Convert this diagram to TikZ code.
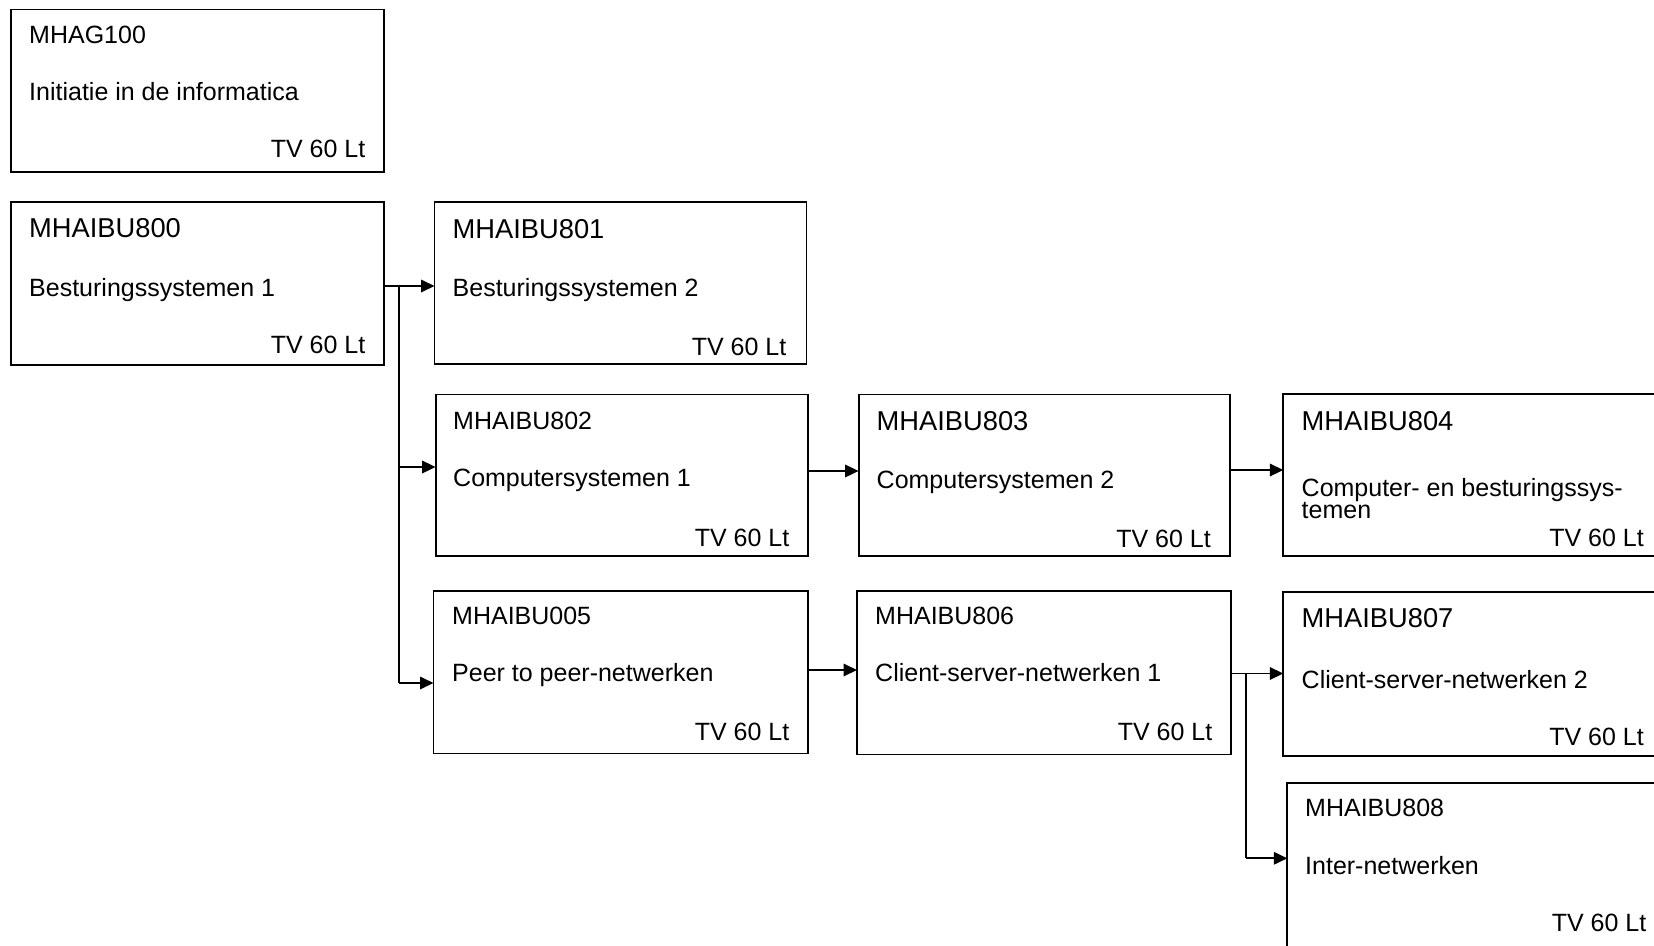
\documentclass[tikz,border=0pt]{standalone}
\usepackage{fontspec}
\setmainfont{Liberation Sans}
\usetikzlibrary{arrows.meta}
\newcommand\fsN{\fontsize{25}{30}\selectfont}
\newcommand\fsL{\fontsize{27.3}{32}\selectfont}
\newcommand\fsT{\fontsize{25}{20.8}\selectfont}
\tikzset{
  box/.style={draw, line width=1.8pt, rectangle, inner sep=0pt, outer sep=0pt, anchor=north west},
  ttls/.style={inner sep=0pt, anchor=base west, font=\fsN},
  ttll/.style={inner sep=0pt, anchor=base west, font=\fsL},
  body/.style={inner sep=0pt, anchor=base west, font=\fsN},
  tv/.style={inner sep=0pt, anchor=base east, font=\fsN},
  conn/.style={line width=1.8pt},
  arr/.style={conn, -{Triangle[length=13.5pt,width=12.5pt]}}
}
\begin{document}
\begin{tikzpicture}[x=1pt,y=-1pt]
\clip (0,0) rectangle (1654,945);
\useasboundingbox (0,0) rectangle (1654,945);

% boxes
\node[box, minimum width=373pt, minimum height=162.5pt] (g100) at (11,9.5) {};
\node[box, minimum width=373pt, minimum height=163pt] (b800) at (11,202) {};
\node[box, minimum width=372pt, minimum height=162pt] (b801) at (434.5,202.3) {};
\node[box, minimum width=372.5pt, minimum height=161.5pt] (b802) at (435.6,394.5) {};
\node[box, minimum width=371pt, minimum height=161.5pt] (b803) at (858.6,394.5) {};
\node[box, minimum width=379pt, minimum height=161.7pt] (b804) at (1283.3,394.3) {};
\node[box, minimum width=374.5pt, minimum height=162.8pt] (b005) at (433.5,590.7) {};
\node[box, minimum width=374pt, minimum height=163.8pt] (b806) at (857,590.7) {};
\node[box, minimum width=379pt, minimum height=163.7pt] (b807) at (1283.3,592.3) {};
\node[box, minimum width=379pt, minimum height=165pt] (b808) at (1287.3,783.3) {};

% texts
\node[ttls] (g100a) at (29,43.3) {MHAG100};
\node[body] (g100b) at (29,100) {Initiatie in de informatica};
\node[tv]   (g100c) at (365.5,157.3) {TV 60 Lt};

\node[ttll] (b800a) at (29,237.7) {MHAIBU800};
\node[body] (b800b) at (29,296.7) {Besturingssystemen 1};
\node[tv]   (b800c) at (365.5,353.3) {TV 60 Lt};

\node[ttll] (b801a) at (452.5,238.3) {MHAIBU801};
\node[body] (b801b) at (452.5,296) {Besturingssystemen 2};
\node[tv]   (b801c) at (786.5,355.7) {TV 60 Lt};

\node[ttls] (b802a) at (453,429) {MHAIBU802};
\node[body] (b802b) at (453,486.7) {Computersystemen 1};
\node[tv]   (b802c) at (789.5,546.7) {TV 60 Lt};

\node[ttll] (b803a) at (876.5,430) {MHAIBU803};
\node[body] (b803b) at (876.5,488) {Computersystemen 2};
\node[tv]   (b803c) at (1211,547) {TV 60 Lt};

\node[ttll] (b804a) at (1301.5,430) {MHAIBU804};
\node[body, align=left, font=\fsT] (b804b) at (1301.5,518.5) {Computer- en besturingssys-\\temen};
\node[tv]   (b804d) at (1644,546.7) {TV 60 Lt};

\node[ttls] (b005a) at (452,624) {MHAIBU005};
\node[body] (b005b) at (452,681.7) {Peer to peer-netwerken};
\node[tv]   (b005c) at (789.5,740) {TV 60 Lt};

\node[ttls] (b806a) at (875,624) {MHAIBU806};
\node[body] (b806b) at (875,681.7) {Client-server-netwerken 1};
\node[tv]   (b806c) at (1212.5,740) {TV 60 Lt};

\node[ttll] (b807a) at (1301.5,627.7) {MHAIBU807};
\node[body] (b807b) at (1301.5,688.3) {Client-server-netwerken 2};
\node[tv]   (b807c) at (1644,745.7) {TV 60 Lt};

\node[ttls] (b808a) at (1305,816.7) {MHAIBU808};
\node[body] (b808b) at (1305,874.3) {Inter-netwerken};
\node[tv]   (b808c) at (1646.5,931.7) {TV 60 Lt};

% connectors
\coordinate (j1) at (399,286);
\coordinate (j2) at (399,467);
\coordinate (j3) at (399,683);
\draw[conn] (b800.east |- j1) -- (j1) -- (j3);
\draw[arr] (j1) -- (b801.west |- j1);
\draw[arr] (j2) -- (b802.west |- j2);
\draw[arr] (j3) -- (b005.west |- j3);

\coordinate (k1) at (0,471);
\draw[arr] (b802.east |- k1) -- (b803.west |- k1);
\coordinate (k2) at (0,470);
\draw[arr] (b803.east |- k2) -- (b804.west |- k2);
\coordinate (k3) at (0,670);
\draw[arr] (b005.east |- k3) -- (b806.west |- k3);
\coordinate (k4) at (0,673.5);
\coordinate (m1) at (1245.7,673.5);
\coordinate (m2) at (1245.7,858.3);
\draw[arr] (b806.east |- k4) -- (b807.west |- k4);
\draw[conn] (m1) -- (m2);
\draw[arr] (m2) -- (b808.west |- m2);
\end{tikzpicture}
\end{document}
